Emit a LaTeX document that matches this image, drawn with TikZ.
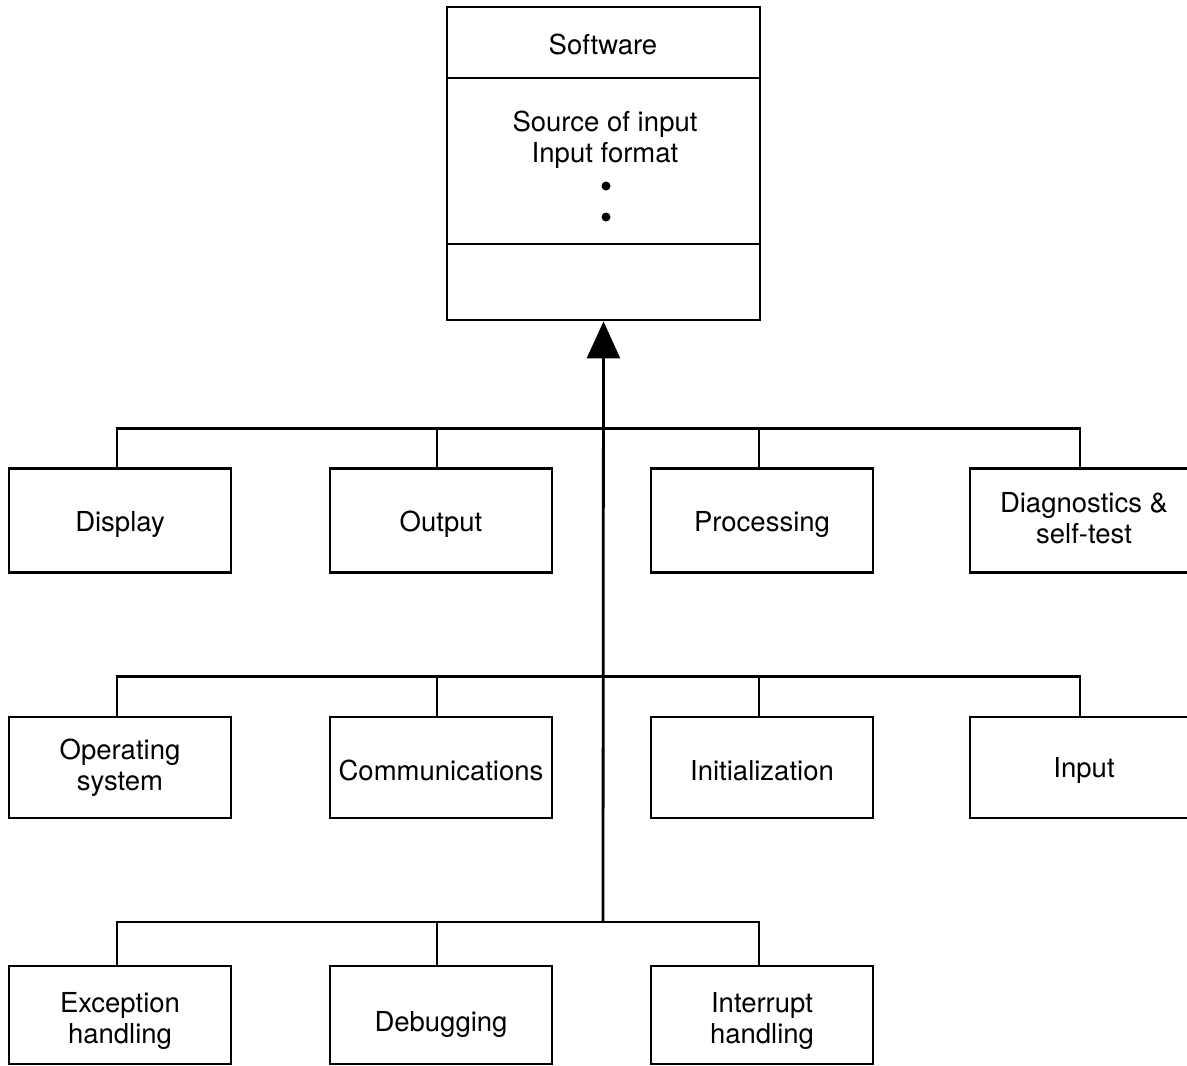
\documentclass[tikz,border=0pt]{standalone}
\usepackage{fontspec}
\setmainfont{TeX Gyre Heros}
\usetikzlibrary{arrows.meta}
\begin{document}
\begin{tikzpicture}[x=1pt, y=-1pt, line width=2.8pt,
  lbl/.style={font=\fontsize{27.5}{31}\selectfont, align=center, inner sep=0pt},
  box/.style={draw, minimum width=222pt, minimum height=104pt, inner sep=0pt},
  dot/.style={circle, fill, inner sep=0pt, minimum size=9pt},
  bigtip/.style={-{Triangle[length=37pt, width=33pt]}}]
\useasboundingbox (0,0) rectangle (1187,1066);
\clip (0,0) rectangle (1187,1066);

% class box with three compartments
\node[draw, minimum width=313pt, minimum height=313pt, inner sep=0pt] (sw) at (603.5,163.5) {};
\draw (sw.west |- 0,78) coordinate (d1) -- (sw.east |- d1);
\draw (sw.west |- 0,244) coordinate (d2) -- (sw.east |- d2);
\node[lbl] (name) at (603,44) {Software};
\node[lbl] (attrs) at (605,140) {Source of input\\Input format};
\node[dot] (dotA) at (606,186) {};
\node[dot] (dotB) at (606,217) {};

% first row
\node[box] (disp) at (120,520.5) {};
\node[box] (outp) at (441,520.5) {};
\node[box] (proc) at (762,520.5) {};
\node[box, minimum width=228pt] (diag) at (1084,520.5) {};
\node[lbl] (disp-t) at ([yshift=-4pt]disp) {Display};
\node[lbl] (outp-t) at ([yshift=-4pt]outp) {Output};
\node[lbl] (proc-t) at ([yshift=-4pt]proc) {Processing};
\node[lbl] (diag-t) at ([yshift=2.5pt]diag) {Diagnostics \&\\self-test};

% second row
\node[box, minimum height=101pt] (opsys) at (120,767.5) {};
\node[box, minimum height=101pt] (comm) at (441,767.5) {};
\node[box, minimum height=101pt] (init) at (762,767.5) {};
\node[box, minimum height=101pt, minimum width=228pt] (inp) at (1084,767.5) {};
\node[lbl] (opsys-t) at (opsys) {Operating\\system};
\node[lbl] (comm-t) at ([yshift=-3pt]comm) {Communications};
\node[lbl] (init-t) at ([yshift=-3pt]init) {Initialization};
\node[lbl] (inp-t) at ([yshift=-3pt]inp) {Input};

% third row
\node[box, minimum height=98pt] (exc) at (120,1015) {};
\node[box, minimum height=98pt] (dbg) at (441,1015) {};
\node[box, minimum height=98pt] (intr) at (762,1015) {};
\node[lbl] (exc-t) at ([yshift=-6pt]exc) {Exception\\handling};
\node[lbl] (dbg-t) at ([yshift=-9pt]dbg) {Debugging};
\node[lbl] (intr-t) at ([yshift=-6pt]intr) {Interrupt\\handling};

% buses
\coordinate (j3) at (603,922);
\draw ([xshift=-3pt]disp.north) -- ++(0,-39) coordinate (b1) -| ([xshift=-4pt]diag.north);
\draw ([xshift=-4pt]outp.north) -- ++(0,-39);
\draw ([xshift=-3pt]proc.north) -- ++(0,-39);

\draw ([xshift=-3pt]opsys.north) -- ++(0,-39) coordinate (b2) -| ([xshift=-4pt]inp.north);
\draw ([xshift=-4pt]comm.north) -- ++(0,-39);
\draw ([xshift=-3pt]init.north) -- ++(0,-39);

\draw ([xshift=-3pt]exc.north) |- (j3) -| ([xshift=-3pt]intr.north);
\draw ([xshift=-4pt]dbg.north) -- ([xshift=-4pt]dbg.north |- j3);

% generalization arrow
\draw[bigtip] (j3) -- (sw.south);
\end{tikzpicture}
\end{document}
